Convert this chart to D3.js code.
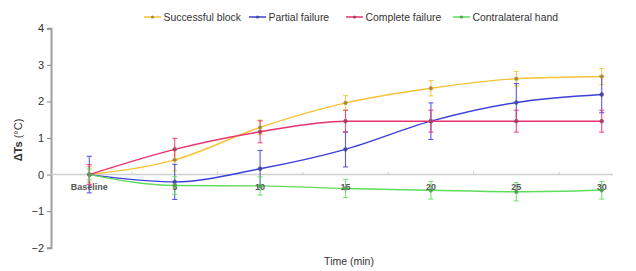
<!DOCTYPE html>
<html>
<head>
<meta charset="utf-8">
<script src="https://cdn.jsdelivr.net/npm/d3@7"></script>
<style>
  body { margin: 0; background: #fff; }
  svg { font-family: "Liberation Sans", Arial, sans-serif; }
</style>
</head>
<body>
<div id="chart"></div>
<script>
// time points (min) and their labels
const times = [0, 5, 10, 15, 20, 25, 30];
const timeLabels = ["Baseline", "5", "10", "15", "20", "25", "30"];
const yTicks = [-2, -1, 0, 1, 2, 3, 4];

// series: mean ΔTs and error (±)
const seriesNames = ["Successful block", "Partial failure", "Complete failure", "Contralateral hand"];
const seriesColors = ["#f7c233", "#3b3fdc", "#e8336b", "#5fdc5c"];
const successMean = [0, 0.40, 1.29, 1.96, 2.36, 2.62, 2.68];
const successErr  = [0.22, 0.30, 0.20, 0.20, 0.21, 0.20, 0.22];
const partialMean = [0, -0.20, 0.16, 0.69, 1.46, 1.97, 2.19];
const partialErr  = [0.50, 0.48, 0.50, 0.48, 0.50, 0.52, 0.50];
const completeMean = [0, 0.69, 1.17, 1.46, 1.46, 1.46, 1.46];
const completeErr  = [0.27, 0.30, 0.30, 0.30, 0.30, 0.30, 0.30];
const contraMean = [0, -0.30, -0.31, -0.38, -0.43, -0.47, -0.43];
const contraErr  = [0.15, 0.24, 0.25, 0.25, 0.24, 0.25, 0.24];

const means = [successMean, partialMean, completeMean, contraMean];
const errs = [successErr, partialErr, completeErr, contraErr];

const series = seriesNames.map((name, i) => ({
  name,
  color: seriesColors[i],
  values: times.map((t, j) => ({ t, v: means[i][j], e: errs[i][j] }))
}));

const W = 636, H = 271;
const svg = d3.select("#chart").append("svg").attr("width", W).attr("height", H);

const x = d3.scaleLinear().domain([0, 30]).range([89.3, 601.7]);
const y = d3.scaleLinear().domain([-2, 4]).range([247.7, 28.3]);
const axisX = 51, zeroEnd = 613;

// y axis
const yAxis = svg.append("g")
  .attr("transform", `translate(${axisX},0)`)
  .call(d3.axisLeft(y).tickValues(yTicks).tickSize(4).tickPadding(3)
    .tickFormat(d => d < 0 ? "\u2212" + Math.abs(d) : d));
yAxis.select(".domain").attr("stroke", "#a0a0a0").attr("stroke-width", 2);
yAxis.selectAll(".tick line").attr("stroke", "#888");
yAxis.selectAll("text").style("font-size", "11px").style("fill", "#333");

// zero line with minor ticks between time points
svg.append("line")
  .attr("x1", axisX).attr("x2", zeroEnd)
  .attr("y1", y(0)).attr("y2", y(0))
  .attr("stroke", "#cfcfcf").attr("stroke-width", 1.5);
svg.selectAll(".minor")
  .data(times.slice(1))
  .enter().append("line")
  .attr("x1", d => x(d - 2.5)).attr("x2", d => x(d - 2.5))
  .attr("y1", y(0) - 3).attr("y2", y(0))
  .attr("stroke", "#cfcfcf").attr("stroke-width", 1);

// y axis label
const yl = svg.append("text")
  .attr("transform", `translate(22,${(y(0.5) + y(1.5)) / 2 + 2}) rotate(-90)`)
  .attr("text-anchor", "middle")
  .style("font-size", "11px")
  .style("fill", "#333");
yl.append("tspan").style("font-weight", "700").text("\u0394Ts");
yl.append("tspan").text(" (\u00b0C)");

// x axis label
svg.append("text")
  .attr("x", 349).attr("y", 265)
  .attr("text-anchor", "middle")
  .style("font-size", "10.5px")
  .style("fill", "#333")
  .text("Time (min)");

const line = d3.line().x(d => x(d.t)).y(d => y(d.v)).curve(d3.curveMonotoneX);

// lines
series.forEach(s => {
  svg.append("path")
    .datum(s.values)
    .attr("fill", "none")
    .attr("stroke", s.color)
    .attr("stroke-width", 1.4)
    .attr("d", line);
});

// error bars
series.forEach(s => {
  const g = svg.append("g").attr("stroke", s.color).attr("stroke-width", 1.1).attr("opacity", 0.85);
  g.selectAll(".eb").data(s.values).enter().append("line")
    .attr("x1", d => x(d.t)).attr("x2", d => x(d.t))
    .attr("y1", d => y(d.v - d.e)).attr("y2", d => y(d.v + d.e));
  g.selectAll(".capT").data(s.values).enter().append("line")
    .attr("x1", d => x(d.t) - 2.5).attr("x2", d => x(d.t) + 2.5)
    .attr("y1", d => y(d.v + d.e)).attr("y2", d => y(d.v + d.e));
  g.selectAll(".capB").data(s.values).enter().append("line")
    .attr("x1", d => x(d.t) - 2.5).attr("x2", d => x(d.t) + 2.5)
    .attr("y1", d => y(d.v - d.e)).attr("y2", d => y(d.v - d.e));
});

// x tick labels (drawn under the zero line, beneath markers)
svg.selectAll(".xlab")
  .data(times)
  .enter().append("text")
  .attr("x", d => x(d))
  .attr("y", y(0) + 15)
  .attr("text-anchor", "middle")
  .style("font-size", "9px")
  .style("font-weight", "700")
  .style("fill", "#555")
  .text((d, i) => timeLabels[i]);

// markers
series.forEach(s => {
  const fill = d3.interpolateRgb(s.color, "#555")(0.55);
  svg.selectAll(null).data(s.values).enter().append("circle")
    .attr("cx", d => x(d.t)).attr("cy", d => y(d.v))
    .attr("r", 1.9)
    .attr("fill", fill)
    .attr("stroke", d3.interpolateRgb(s.color, "#777")(0.3))
    .attr("stroke-width", 0.7);
});

// legend
const legendX = [144, 249, 346, 453];
const leg = svg.append("g");
series.forEach((s, i) => {
  const g = leg.append("g").attr("transform", `translate(${legendX[i]},17)`);
  g.append("line").attr("x1", 0).attr("x2", 17).attr("y1", 0).attr("y2", 0)
    .attr("stroke", s.color).attr("stroke-width", 1.5);
  g.append("circle").attr("cx", 8.5).attr("cy", 0).attr("r", 1.6)
    .attr("fill", d3.interpolateRgb(s.color, "#555")(0.5));
  g.append("text").attr("x", 19.5).attr("y", 4)
    .style("font-size", "10.4px").style("fill", "#333").text(s.name);
});
</script>
</body>
</html>
